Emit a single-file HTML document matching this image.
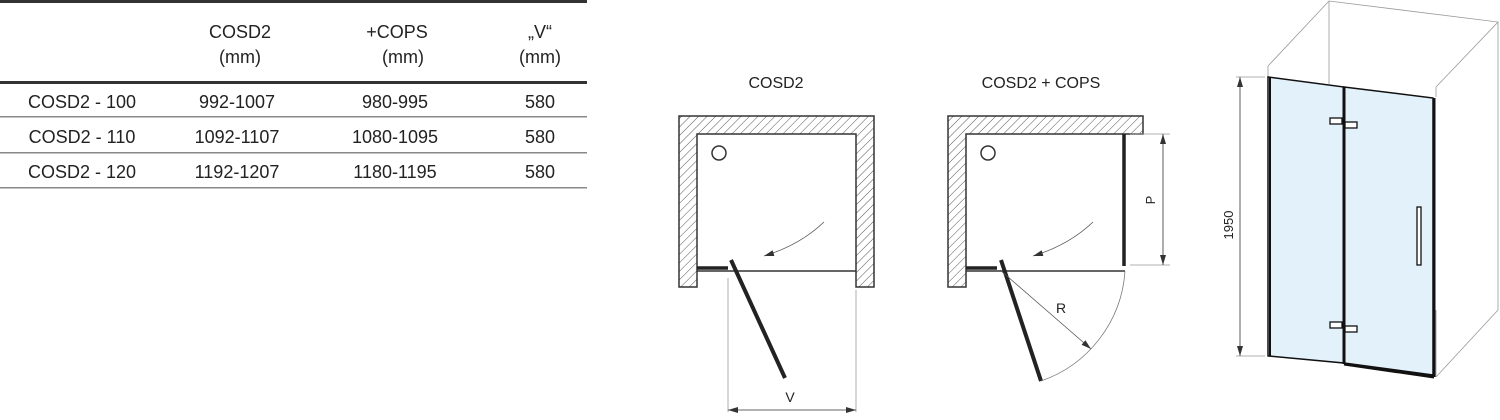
<!DOCTYPE html>
<html><head><meta charset="utf-8"><style>
html,body{margin:0;padding:0;background:#fff;}
body{width:1500px;height:415px;overflow:hidden;position:relative;font-family:"Liberation Sans",Arial,sans-serif;}
</style></head><body>
<svg width="1500" height="415" viewBox="0 0 1500 415" xmlns="http://www.w3.org/2000/svg" font-family="Liberation Sans, Arial, sans-serif">
<defs>
<pattern id="h" patternUnits="userSpaceOnUse" width="6" height="6" patternTransform="rotate(45)">
<rect width="6" height="6" fill="#fff"/><line x1="0" y1="0" x2="0" y2="6" stroke="#555" stroke-width="1"/>
</pattern>
<marker id="a" markerWidth="10" markerHeight="6" refX="10" refY="3" orient="auto" markerUnits="userSpaceOnUse"><path d="M0,0 L10,3 L0,6z" fill="#333"/></marker>
<marker id="a2" markerWidth="10" markerHeight="6" refX="10" refY="3" orient="auto-start-reverse" markerUnits="userSpaceOnUse"><path d="M0,0 L10,3 L0,6z" fill="#333"/></marker>
</defs>
<!-- table -->
<rect x="0" y="0" width="587" height="3" fill="#333"/>
<rect x="0" y="81" width="587" height="3" fill="#333"/>
<rect x="0" y="116" width="587" height="1.5" fill="#888"/>
<rect x="0" y="152" width="587" height="1.5" fill="#888"/>
<rect x="0" y="187" width="587" height="1.5" fill="#888"/>
<g font-size="18" fill="#222" text-anchor="middle">
<text x="240" y="38">COSD2</text><text x="240" y="63">(mm)</text>
<text x="397" y="38">+COPS</text><text x="403" y="63">(mm)</text>
<text x="540" y="38">„V“</text><text x="540" y="63">(mm)</text>
<text x="82" y="108">COSD2 - 100</text><text x="237" y="108">992-1007</text><text x="395" y="108">980-995</text><text x="540" y="108">580</text>
<text x="82" y="143">COSD2 - 110</text><text x="237" y="143">1092-1107</text><text x="395" y="143">1080-1095</text><text x="540" y="143">580</text>
<text x="82" y="178">COSD2 - 120</text><text x="237" y="178">1192-1207</text><text x="395" y="178">1180-1195</text><text x="540" y="178">580</text>
<text x="776" y="88" font-size="16">COSD2</text>
<text x="1041" y="88" font-size="16">COSD2 + COPS</text>
</g>
<!-- diagram 1 -->
<path d="M679,116 H874 V287 H856 V134 H697 V287 H679 Z" fill="url(#h)" stroke="#333" stroke-width="1.5"/>
<line x1="697" y1="271" x2="856" y2="271" stroke="#333" stroke-width="1.5"/>
<line x1="697" y1="268" x2="728" y2="268" stroke="#222" stroke-width="3.5"/>
<line x1="731" y1="260" x2="785" y2="378" stroke="#222" stroke-width="4"/>
<circle cx="719" cy="153" r="7" fill="none" stroke="#333" stroke-width="1.5"/>
<path d="M824,222 Q800,245 764,256" fill="none" stroke="#555" stroke-width="0.8" marker-end="url(#a)"/>
<line x1="728" y1="278" x2="728" y2="412" stroke="#999" stroke-width="0.8"/>
<line x1="856" y1="290" x2="856" y2="412" stroke="#999" stroke-width="0.8"/>
<line x1="728" y1="410" x2="856" y2="410" stroke="#333" stroke-width="0.8" marker-start="url(#a2)" marker-end="url(#a)"/>
<text x="790" y="402" font-size="14" text-anchor="middle" fill="#222">V</text>
<!-- diagram 2 -->
<path d="M948,116 H1143 V134 H966 V287 H948 Z" fill="url(#h)" stroke="#333" stroke-width="1.5"/>
<line x1="966" y1="271" x2="1125" y2="271" stroke="#333" stroke-width="1.5"/>
<line x1="966" y1="268" x2="997" y2="268" stroke="#222" stroke-width="3.5"/>
<line x1="1124" y1="134" x2="1124" y2="266" stroke="#222" stroke-width="3.5"/>
<line x1="1001" y1="260" x2="1041" y2="381" stroke="#222" stroke-width="4"/>
<circle cx="988" cy="153" r="7" fill="none" stroke="#333" stroke-width="1.5"/>
<path d="M1093,222 Q1069,245 1033,256" fill="none" stroke="#555" stroke-width="0.8" marker-end="url(#a)"/>
<path d="M1125,271 A125,125 0 0 1 1041,381" fill="none" stroke="#777" stroke-width="0.8"/>
<line x1="1000" y1="270" x2="1091" y2="349" stroke="#555" stroke-width="0.8" marker-end="url(#a)"/>
<text x="1061" y="313" font-size="14" text-anchor="middle" fill="#222">R</text>
<line x1="1130" y1="134" x2="1170" y2="134" stroke="#999" stroke-width="0.8"/>
<line x1="1130" y1="265" x2="1170" y2="265" stroke="#999" stroke-width="0.8"/>
<line x1="1163" y1="134" x2="1163" y2="265" stroke="#333" stroke-width="0.8" marker-start="url(#a2)" marker-end="url(#a)"/>
<text x="0" y="0" font-size="13" text-anchor="middle" fill="#222" transform="translate(1155,200) rotate(-90)">P</text>
<!-- 3D -->
<g stroke="#999" stroke-width="0.8" fill="none">
<polyline points="1268,66 1329,1 1498,22 1436,87"/>
<line x1="1329" y1="1" x2="1329" y2="84"/>
<line x1="1498" y1="22" x2="1498" y2="310"/>
<line x1="1436" y1="310" x2="1436" y2="377"/>
<line x1="1436" y1="87" x2="1436" y2="97"/>
<line x1="1436" y1="377" x2="1498" y2="310"/>
<line x1="1268" y1="66" x2="1268" y2="77"/>
<line x1="1236" y1="77" x2="1265" y2="77"/>
<line x1="1236" y1="356" x2="1265" y2="356"/>
</g>
<polygon points="1268,77 1344,87 1344,363 1268,356" fill="#e3f1fb" stroke="#111" stroke-width="1.5"/>
<polygon points="1344,87 1433,98 1433,375 1344,363" fill="#e3f1fb" stroke="#111" stroke-width="1.5"/>
<line x1="1270" y1="77" x2="1270" y2="356" stroke="#111" stroke-width="2"/>
<line x1="1344" y1="87" x2="1344" y2="364" stroke="#111" stroke-width="3"/>
<line x1="1434" y1="98" x2="1434" y2="377" stroke="#111" stroke-width="3"/>
<line x1="1344" y1="364" x2="1434" y2="377" stroke="#111" stroke-width="3"/>
<g fill="#fff" stroke="#111" stroke-width="1.3">
<rect x="1330" y="118" width="12" height="6"/><rect x="1345" y="122" width="12" height="6"/>
<rect x="1330" y="322" width="12" height="6"/><rect x="1345" y="326" width="12" height="6"/>
<rect x="1417" y="207" width="4" height="58"/>
</g>
<line x1="1240" y1="77" x2="1240" y2="356" stroke="#333" stroke-width="0.8" marker-start="url(#a2)" marker-end="url(#a)"/>
<text x="0" y="0" font-size="13" text-anchor="middle" fill="#222" transform="translate(1233,225) rotate(-90)">1950</text>
</svg>
</body></html>
